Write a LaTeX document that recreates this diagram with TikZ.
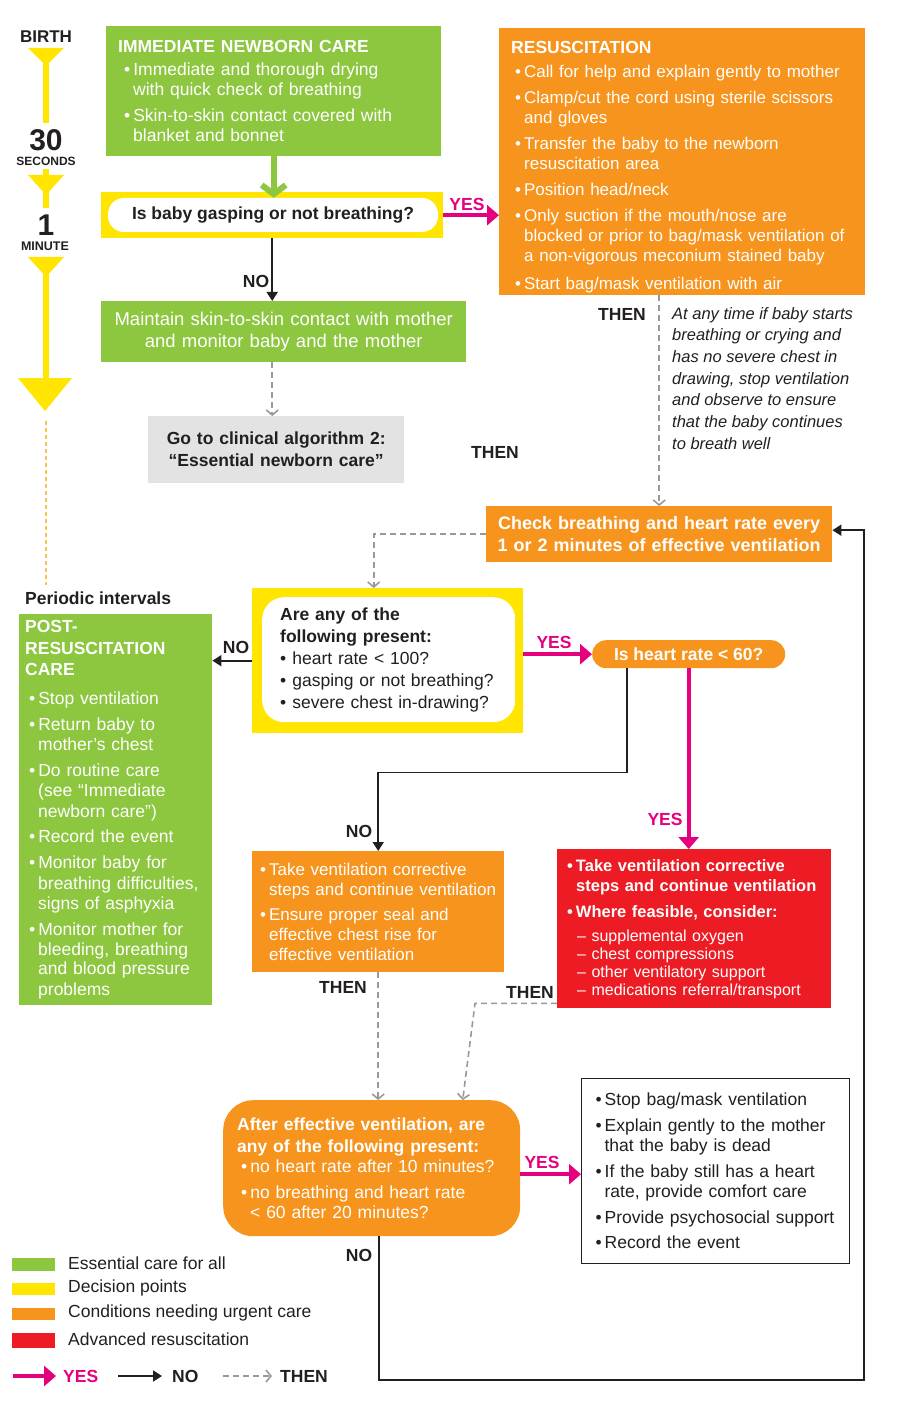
\documentclass[tikz,border=0pt]{standalone}
\usepackage{fontspec}
\setmainfont{Liberation Sans}
\usetikzlibrary{arrows.meta}

\definecolor{cgreen}{HTML}{8DC63F}
\definecolor{cyellow}{HTML}{FFE500}
\definecolor{corange}{HTML}{F7941D}
\definecolor{cred}{HTML}{ED1C24}
\definecolor{cmagenta}{HTML}{E5007E}
\definecolor{cgreybox}{HTML}{E3E3E3}
\definecolor{cthen}{HTML}{999999}
\definecolor{cink}{HTML}{231F20}
\definecolor{cdots}{HTML}{FBC252}

\newcommand{\txtbody}{\fontsize{17.5}{20}\selectfont}
\newcommand{\txtsmall}{\fontsize{16}{18}\selectfont}
\newcommand{\txtital}{\fontsize{16.5}{21.7}\selectfont\itshape}
\newcommand{\bul}{\textbullet\hspace{3pt}}
\newcommand{\hang}{\hspace*{9pt}}

\tikzset{
  x=1pt, y=-1pt,
  every node/.style={inner sep=0pt, text=cink, font=\txtbody},
  card/.style={anchor=north west, align=left, inner ysep=0pt},
  greencard/.style={card, fill=cgreen, text=white},
  orangecard/.style={card, fill=corange, text=white},
  redcard/.style={card, fill=cred, text=white},
  askframe/.style={anchor=north west, fill=cyellow},
  askbubble/.style={fill=white, rounded corners=16pt},
  lab/.style={font=\fontsize{17.5}{18}\selectfont\bfseries},
  yeslab/.style={lab, text=cmagenta},
  yesarr/.style={cmagenta, line width=4pt, -{Triangle[length=12pt,width=20pt]}},
  noarr/.style={cink, line width=1.8pt, -{Triangle[length=9pt,width=11pt]}},
  thenarr/.style={cthen, line width=1.6pt, dash pattern=on 6pt off 4pt, -{Straight Barb[length=5pt,width=12pt]}},
  greenarr/.style={cgreen, line width=6pt, -{Straight Barb[length=9pt,width=24pt]}},
}

\begin{document}
\begin{tikzpicture}
  \useasboundingbox (0,0) rectangle (918,1404);

  % time line on the left
  \draw[cyellow, line width=6pt] (46,60) -- (46,123) (46,169) -- (46,208) (46,270) -- (46,380);
  \fill[cyellow] (28,48) -- (64,48) -- (46,66) -- cycle;
  \fill[cyellow] (28,175) -- (64,175) -- (46,195) -- cycle;
  \fill[cyellow] (28,257) -- (64,257) -- (46,277) -- cycle;
  \fill[cyellow] (18,378) -- (72,378) -- (45,411) -- cycle;
  \draw[cdots, line width=1.5pt, dash pattern=on 4pt off 3pt] (46,421) -- (46,585);
  \node[font=\fontsize{17}{17}\selectfont\bfseries] (birth) at (46,37) {BIRTH};
  \node[font=\fontsize{30}{30}\selectfont\bfseries] (thirty) at (46,140) {30};
  \node[font=\fontsize{12}{12}\selectfont\bfseries] (secs) at (46,161) {SECONDS};
  \node[font=\fontsize{30}{30}\selectfont\bfseries] (one) at (46,225) {1};
  \node[font=\fontsize{12.5}{12}\selectfont\bfseries] (mins) at (45,246) {MINUTE};

  % first steps
  \node[greencard, inner xsep=12pt, text width=311pt, minimum height=130pt] (inc) at (106,26) {%
    {\bfseries IMMEDIATE NEWBORN CARE}\\[3pt]
    \hspace*{6pt}\bul Immediate and thorough drying\\
    \hspace*{15pt}with quick check of breathing\\[6pt]
    \hspace*{6pt}\bul Skin-to-skin contact covered with\\
    \hspace*{15pt}blanket and bonnet};
  \node[askframe, minimum width=342pt, minimum height=46pt] (gaspY) at (101,192) {};
  \node[askbubble, minimum width=330pt, minimum height=34pt, font=\txtbody\bfseries] (gasp) at (273,215) {Is baby gasping or not breathing?};
  \node[orangecard, inner xsep=12pt, text width=342pt, minimum height=267pt, font=\fontsize{17}{20}\selectfont] (resus) at (499,28) {%
    \rule{0pt}{23pt}{\fontsize{17.5}{20}\selectfont\bfseries RESUSCITATION}\\[4pt]
    \hspace*{4pt}\bul Call for help and explain gently to mother\\[6pt]
    \hspace*{4pt}\bul Clamp/cut the cord using sterile scissors\\
    \hspace*{13pt}and gloves\\[6pt]
    \hspace*{4pt}\bul Transfer the baby to the newborn\\
    \hspace*{13pt}resuscitation area\\[6pt]
    \hspace*{4pt}\bul Position head/neck\\[6pt]
    \hspace*{4pt}\bul Only suction if the mouth/nose are\\
    \hspace*{13pt}blocked or prior to bag/mask ventilation of\\
    \hspace*{13pt}a non-vigorous meconium stained baby\\[8pt]
    \hspace*{4pt}\bul Start bag/mask ventilation with air};
  \node[greencard, align=center, inner xsep=12pt, text width=341pt, minimum height=61pt, font=\fontsize{18.5}{22}\selectfont] (maint) at (101,301)
    {Maintain skin-to-skin contact with mother\\and monitor baby and the mother};
  \node[card, fill=cgreybox, align=center, inner xsep=8pt, text width=240pt, minimum height=67pt, font=\fontsize{17.5}{22}\selectfont\bfseries] (goto) at (148,416)
    {Go to clinical algorithm 2:\\“Essential newborn care”};
  \node[anchor=north west, align=left, font=\txtital] (note) at (672,307)
    {At any time if baby starts\\breathing or crying and\\has no severe chest in\\drawing, stop ventilation\\and observe to ensure\\that the baby continues\\to breath well};

  % checking loop
  \node[orangecard, align=center, inner xsep=6pt, text width=334pt, minimum height=56pt, font=\fontsize{18}{22}\selectfont\bfseries] (check) at (486,506)
    {Check breathing and heart rate every\\1 or 2 minutes of effective ventilation};
  \node[anchor=west, font=\fontsize{17.5}{20}\selectfont\bfseries] (periodic) at (25,598) {Periodic intervals};
  \node[greencard, inner xsep=6pt, text width=181pt, minimum height=391pt] (post) at (19,614) {%
    {\bfseries POST-\\[1.5pt]RESUSCITATION\\[1.5pt]CARE}\\[9pt]
    \hspace*{4pt}\bul Stop ventilation\\[6pt]
    \hspace*{4pt}\bul Return baby to\\
    \hspace*{13pt}mother’s chest\\[6pt]
    \hspace*{4pt}\bul Do routine care\\
    \hspace*{13pt}(see “Immediate\\
    \hspace*{13pt}newborn care”)\\[6pt]
    \hspace*{4pt}\bul Record the event\\[6pt]
    \hspace*{4pt}\bul Monitor baby for\\
    \hspace*{13pt}breathing difficulties,\\
    \hspace*{13pt}signs of asphyxia\\[6pt]
    \hspace*{4pt}\bul Monitor mother for\\
    \hspace*{13pt}bleeding, breathing\\
    \hspace*{13pt}and blood pressure\\
    \hspace*{13pt}problems};
  \node[askframe, minimum width=271pt, minimum height=145pt] (dec2Y) at (252,588) {};
  \node[askbubble, rounded corners=22pt, anchor=north west, align=left, inner xsep=18pt, text width=217pt, minimum height=125pt, font=\fontsize{17.5}{22}\selectfont] (dec2) at (262,597) {%
    {\bfseries Are any of the\\following present:}\\
    \textbullet\hspace{6pt}heart rate < 100?\\
    \textbullet\hspace{6pt}gasping or not breathing?\\
    \textbullet\hspace{6pt}severe chest in-drawing?};
  \node[card, fill=corange, text=white, rounded corners=14pt, align=center, minimum width=193pt, minimum height=28pt, font=\txtbody\bfseries] (hr) at (592,640) {Is heart rate < 60?};
  \node[orangecard, inner xsep=6pt, text width=240pt, minimum height=121pt, font=\fontsize{17}{20}\selectfont] (correct) at (252,851) {%
    \hspace*{2pt}\bul Take ventilation corrective\\
    \hspace*{11pt}steps and continue ventilation\\[5pt]
    \hspace*{2pt}\bul Ensure proper seal and\\
    \hspace*{11pt}effective chest rise for\\
    \hspace*{11pt}effective ventilation};
  \node[redcard, inner xsep=10pt, text width=254pt, minimum height=159pt, font=\fontsize{16.5}{20}\selectfont] (adv) at (557,849) {%
    \textbf{\bul Take ventilation corrective}\\
    \textbf{\hang steps and continue ventilation}\\[6pt]
    \textbf{\bul Where feasible, consider:}\\[4pt]
    {\txtsmall\hspace*{10pt}– supplemental oxygen}\\[-2pt]
    {\txtsmall\hspace*{10pt}– chest compressions}\\[-2pt]
    {\txtsmall\hspace*{10pt}– other ventilatory support}\\[-2pt]
    {\txtsmall\hspace*{10pt}– medications referral/transport}};
  \node[orangecard, rounded corners=30pt, inner xsep=14pt, text width=269pt, minimum height=136pt] (final) at (223,1100) {%
    {\bfseries After effective ventilation, are\\[2pt]any of the following present:}\\
    \hspace*{4pt}\bul no heart rate after 10 minutes?\\[6pt]
    \hspace*{4pt}\bul no breathing and heart rate\\
    \hspace*{13pt}< 60 after 20 minutes?};
  \node[card, draw=cink, line width=1.2pt, fill=white, inner xsep=14pt, text width=240pt, minimum height=185pt] (endbox) at (581,1078) {%
    \bul Stop bag/mask ventilation\\[6pt]
    \bul Explain gently to the mother\\
    \hang that the baby is dead\\[6pt]
    \bul If the baby still has a heart\\
    \hang rate, provide comfort care\\[6pt]
    \bul Provide psychosocial support\\[5pt]
    \bul Record the event};
  \coordinate (loopcorner) at (864,1380);

  % connectors
  \draw[greenarr] (inc.south) -- (inc.south |- gasp.north);
  \draw[yesarr] (gaspY.east) -- (gaspY.east -| resus.west);
  \draw[noarr] (gaspY.south) -- (gaspY.south |- maint.north);
  \draw[thenarr] (maint.south -| gaspY.south) -- (goto.north -| gaspY.south);
  \draw[thenarr] (check.north |- resus.south) -- (check.north);
  \draw[thenarr] (check.west) -| ([xshift=-14pt]dec2Y.north);
  \draw[noarr] (dec2Y.west) -- (dec2Y.west -| post.east);
  \draw[yesarr] (dec2Y.east |- hr.west) -- (hr.west);
  \draw[noarr] ([xshift=-62pt]hr.south) -- ++(0,104) -| (correct.north);
  \draw[yesarr] (hr.south) -- (hr.south |- adv.north);
  \draw[thenarr] (correct.south) -- (correct.south |- final.north);
  \draw[thenarr] ([yshift=5pt]adv.south west) -- ++(-82,0) -- ([xshift=91pt]final.north);
  \draw[yesarr] ([yshift=-6pt]final.east) -- ([yshift=-6pt]final.east -| endbox.west);
  \draw[noarr] ([xshift=7pt]final.south) |- (loopcorner) |- ([yshift=4pt]check.east);

  % connector labels
  \node[yeslab] (yes1) at (467,204) {YES};
  \node[lab] (no1) at (256,281) {NO};
  \node[lab] (then1) at (622,314) {THEN};
  \node[lab] (then2) at (495,452) {THEN};
  \node[lab] (no2) at (236,647) {NO};
  \node[yeslab] (yes2) at (554,642) {YES};
  \node[lab] (no3) at (359,831) {NO};
  \node[yeslab] (yes3) at (665,819) {YES};
  \node[lab] (then3) at (343,987) {THEN};
  \node[lab] (then4) at (530,992) {THEN};
  \node[yeslab] (yes4) at (542,1162) {YES};
  \node[lab] (no4) at (359,1255) {NO};

  % legend
  \fill[cgreen] (12,1258) rectangle (55,1271);
  \fill[cyellow] (12,1283) rectangle (55,1295);
  \fill[corange] (12,1308) rectangle (55,1320);
  \fill[cred] (12,1333) rectangle (55,1348);
  \node[anchor=west] (keygreen) at (68,1263) {Essential care for all};
  \node[anchor=west] (keyyellow) at (68,1288) {Decision points};
  \node[anchor=west] (keyorange) at (68,1313) {Conditions needing urgent care};
  \node[anchor=west] (keyred) at (68,1339) {Advanced resuscitation};
  \draw[yesarr] (13,1376) -- (56,1376);
  \node[yeslab, anchor=west] (keyyes) at (63,1376) {YES};
  \draw[noarr] (118,1376) -- (162,1376);
  \node[lab, anchor=west] (keyno) at (172,1376) {NO};
  \draw[thenarr] (223,1376) -- (272,1376);
  \node[lab, anchor=west] (keythen) at (280,1376) {THEN};
\end{tikzpicture}
\end{document}
